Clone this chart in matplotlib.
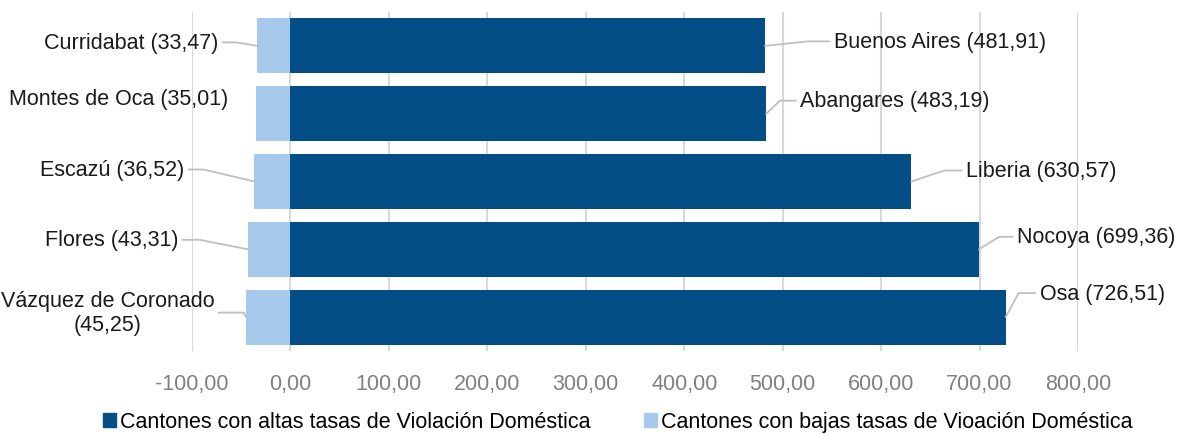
import math
import matplotlib
matplotlib.use("Agg")
import matplotlib.pyplot as plt
from matplotlib.patches import Patch
from matplotlib.ticker import FuncFormatter

plt.rcParams['font.family'] = ['Liberation Sans', 'DejaVu Sans']

# ---- data ----
high_names = ['Buenos Aires', 'Abangares', 'Liberia', 'Nocoya', 'Osa']
high_values = [481.91, 483.19, 630.57, 699.36, 726.51]
low_names = ['Curridabat', 'Montes de Oca', 'Escazú', 'Flores', 'Vázquez de Coronado']
low_values = [33.47, 35.01, 36.52, 43.31, 45.25]
x_ticks = [-100, 0, 100, 200, 300, 400, 500, 600, 700, 800]
legend_labels = ['Cantones con altas tasas de Violación Doméstica',
                 'Cantones con bajas tasas de Vioación Doméstica']

# ---- style ----
DARK = '#034E86'
LIGHT = '#A7C9EB'
GRID = '#D9D9D9'
LEADER = '#BFBFBF'
FS = 15.5

# label placement (pixel offsets from the bar end): text offset, diagonal corner offset
low_label_pos = [((-39, 3.5), (-21, 3.5)),
                 ((-28, 15), None),
                 ((-70, 12), (-51, 12)),
                 ((-69.5, 9.5), (-48.5, 9.5)),
                 ((-31.5, 4.5), (-3, 6.3))]
high_label_pos = [((68.7, 4.5), (52, 5.5)),
                  ((34, 13), (15, 14)),
                  ((55, 11), (34, 11.3)),
                  ((38, 12.5), (21, 13)),
                  ((34, 24), (14, 26))]

fig = plt.figure(figsize=(11.78, 4.35), dpi=100)
ax = fig.add_axes([192/1178, 1 - 352/435, (1078-192)/1178, (352-13)/435])

y = list(range(len(high_values)))
ax.barh(y, high_values, height=0.81, color=DARK, zorder=2)
ax.barh(y, [-v for v in low_values], height=0.81, color=LIGHT, zorder=2)

ax.set_xlim(-100, 800)
ax.set_ylim(len(y) - 0.5, -0.5)
ax.set_xticks(x_ticks)
ax.xaxis.set_major_formatter(FuncFormatter(lambda v, p: f"{v:.2f}".replace('.', ',')))
ax.set_yticks([])
ax.grid(axis='x', color=GRID, lw=1.5, zorder=0)
ax.set_axisbelow(True)
for s in ax.spines.values():
    s.set_visible(False)
ax.tick_params(axis='x', length=0, pad=16, labelsize=FS, labelcolor='#808080')


def fmt(v):
    return f"{v:.2f}".replace('.', ',')


def place(xv, yi, text, pos, ha):
    (tx, ty), corner = pos
    arrow = None
    if corner is not None:
        angB = math.degrees(math.atan2(corner[1], corner[0]))
        arrow = dict(arrowstyle='-', color=LEADER, lw=1.3,
                     connectionstyle=f'angle,angleA=0,angleB={angB},rad=0',
                     shrinkA=1, shrinkB=0,
                     relpos=(1, 0.5) if ha == 'right' else (0, 0.5))
    ax.annotate(text, xy=(xv, yi), xytext=(tx, ty), textcoords='offset pixels',
                ha=ha, va='center', multialignment='center', fontsize=FS,
                color='#1A1A1A', arrowprops=arrow, zorder=3)


for i, (n, v) in enumerate(zip(low_names, low_values)):
    sep = '\n' if len(n) > 15 else ' '
    place(-v, i, f"{n}{sep}({fmt(v)})", low_label_pos[i], 'right')

for i, (n, v) in enumerate(zip(high_names, high_values)):
    place(v, i, f"{n} ({fmt(v)})", high_label_pos[i], 'left')

handles = [Patch(color=DARK), Patch(color=LIGHT)]
fig.legend(handles, legend_labels, loc='center', bbox_to_anchor=(0.5245, 0.028),
           ncol=2, frameon=False, fontsize=FS, handlelength=0.6, handleheight=0.6,
           handletextpad=0.2, columnspacing=2.5, borderaxespad=0, borderpad=0)

fig.savefig('out.png', dpi=100)
